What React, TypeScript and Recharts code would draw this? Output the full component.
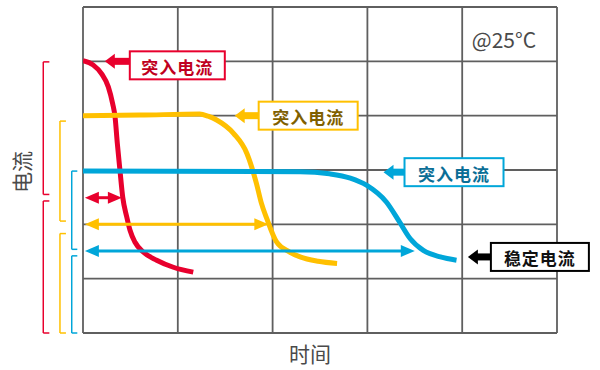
import React from 'react';
import { LineChart, Line, XAxis, YAxis, CartesianGrid, ReferenceLine, ReferenceDot, Customized } from 'recharts';

const xTicks = [0, 1, 2, 3, 4, 5];
const yTicks = [0, 1, 2, 3, 4, 5, 6];

const redCurve = [
  { t: 0, v: 5.01 }, { t: 0.109, v: 4.93 }, { t: 0.197, v: 4.77 }, { t: 0.267, v: 4.53 },
  { t: 0.313, v: 4.22 }, { t: 0.338, v: 3.98 }, { t: 0.362, v: 3.49 }, { t: 0.39, v: 2.99 },
  { t: 0.419, v: 2.5 }, { t: 0.461, v: 2.14 }, { t: 0.496, v: 1.89 }, { t: 0.549, v: 1.67 },
  { t: 0.636, v: 1.49 }, { t: 0.777, v: 1.34 }, { t: 0.953, v: 1.21 }, { t: 1.163, v: 1.12 },
];
const yellowCurve = [
  { t: 0, v: 4.0 }, { t: 0.6, v: 4.01 }, { t: 1.23, v: 4.03 }, { t: 1.32, v: 3.99 },
  { t: 1.41, v: 3.92 }, { t: 1.59, v: 3.67 }, { t: 1.73, v: 3.3 }, { t: 1.83, v: 2.75 },
  { t: 1.88, v: 2.4 }, { t: 1.94, v: 2.1 }, { t: 2.04, v: 1.68 }, { t: 2.18, v: 1.49 },
  { t: 2.29, v: 1.4 }, { t: 2.48, v: 1.32 }, { t: 2.68, v: 1.28 },
];
const blueCurve = [
  { t: 0, v: 2.98 }, { t: 2.29, v: 2.97 }, { t: 2.6, v: 2.93 }, { t: 2.82, v: 2.85 },
  { t: 2.99, v: 2.72 }, { t: 3.2, v: 2.41 }, { t: 3.34, v: 2.04 }, { t: 3.45, v: 1.74 },
  { t: 3.59, v: 1.52 }, { t: 3.77, v: 1.4 }, { t: 3.94, v: 1.34 },
];

const RED = '#E8002D';
const YELLOW = '#FFC000';
const BLUE = '#00A6D9';

const spanArrows = [
  { color: RED, y: 2.49, x1: 0.02, x2: 0.41 },
  { color: YELLOW, y: 2.0, x1: 0.02, x2: 1.955 },
  { color: BLUE, y: 1.51, x1: 0.02, x2: 3.5 },
];

const brackets = [
  { color: RED, x: -0.419, xEnd: -0.355, top: 4.99, bottom: 2.55 },
  { color: RED, x: -0.419, xEnd: -0.355, top: 2.43, bottom: 0 },
  { color: YELLOW, x: -0.243, xEnd: -0.18, top: 3.9, bottom: 2.06 },
  { color: YELLOW, x: -0.243, xEnd: -0.18, top: 1.83, bottom: 0 },
  { color: BLUE, x: -0.119, xEnd: -0.06, top: 2.98, bottom: 1.54 },
  { color: BLUE, x: -0.119, xEnd: -0.06, top: 1.42, bottom: 0 },
];

const callouts = [
  { text: '突入电流', x: 0.23, y: 5.0, color: RED, textColor: '#C00020', dy: 4, gap: 25, w: 95 },
  { text: '突入电流', x: 1.6, y: 4.0, color: YELLOW, textColor: '#7F6000', dy: 0, gap: 24, w: 99 },
  { text: '突入电流', x: 3.17, y: 2.96, color: BLUE, textColor: '#0B6E96', dy: 0, gap: 21, w: 99 },
  { text: '稳定电流', x: 4.06, y: 1.4, color: '#000000', textColor: '#111111', dy: 0, gap: 23, w: 98 },
];

const FONT = '"Noto Sans CJK SC", "Noto Sans", sans-serif';

const DoubleArrow = (props: any) => {
  const { x1, y1, x2, color } = props;
  const head = 14;
  const half = 6;
  return (
    <g>
      <line x1={x1 + head - 2} y1={y1} x2={x2 - head + 2} y2={y1} stroke={color} strokeWidth={3} />
      <polygon points={`${x1},${y1} ${x1 + head},${y1 - half} ${x1 + head},${y1 + half}`} fill={color} />
      <polygon points={`${x2},${y1} ${x2 - head},${y1 - half} ${x2 - head},${y1 + half}`} fill={color} />
    </g>
  );
};

const makeCallout = (c: any) => (props: any) => {
  const { cx, cy } = props;
  const h = 28;
  const boxX = cx + c.gap;
  const boxCy = cy + c.dy;
  const headLen = 10;
  return (
    <g>
      <rect x={cx + headLen - 1} y={cy - 3.5} width={c.gap - headLen + 2} height={7} fill={c.color} />
      <polygon points={`${cx},${cy} ${cx + headLen},${cy - 7.5} ${cx + headLen},${cy + 7.5}`} fill={c.color} />
      <rect x={boxX} y={boxCy - h / 2} width={c.w} height={h} fill="#ffffff" stroke={c.color} strokeWidth={2} />
      <text x={boxX + c.w / 2} y={boxCy + 1} textAnchor="middle" dominantBaseline="central"
        fontFamily={FONT} fontWeight={700} fontSize={17} fill={c.textColor} letterSpacing={1}>
        {c.text}
      </text>
    </g>
  );
};

const Texts = () => (
  <g>
    <text x={504} y={48} textAnchor="middle" fontFamily={FONT} fontSize={21} fill="#4a4a4a">@25°C</text>
    <text x={310} y={353} textAnchor="middle" dominantBaseline="central" fontFamily={FONT} fontSize={21} fill="#4a4a4a">时间</text>
    <text x={21} y={172} textAnchor="middle" dominantBaseline="central" fontFamily={FONT} fontSize={21} fill="#4a4a4a"
      transform="rotate(-90 21 172)">电流</text>
  </g>
);

export default function App() {
  return (
    <div style={{ position: 'absolute', left: 0, top: 0, width: 600, height: 370, background: '#ffffff' }}>
      <LineChart width={600} height={370} margin={{ top: 7, right: 43, bottom: 37, left: 83 }}>
        <XAxis type="number" dataKey="t" domain={[0, 5]} ticks={xTicks} allowDataOverflow hide />
        <YAxis type="number" dataKey="v" domain={[0, 6]} ticks={yTicks} allowDataOverflow hide />
        <CartesianGrid stroke="#5f5f5f" strokeWidth={1.8} horizontal vertical />
        {brackets.map((b, i) => (
          <ReferenceLine key={`bt${i}`} segment={[{ x: b.xEnd, y: b.top }, { x: b.x, y: b.top }]} stroke={b.color} strokeWidth={1.5} ifOverflow="visible" />
        ))}
        {brackets.map((b, i) => (
          <ReferenceLine key={`bv${i}`} segment={[{ x: b.x, y: b.top }, { x: b.x, y: b.bottom }]} stroke={b.color} strokeWidth={1.5} ifOverflow="visible" />
        ))}
        {brackets.map((b, i) => (
          <ReferenceLine key={`bb${i}`} segment={[{ x: b.x, y: b.bottom }, { x: b.xEnd, y: b.bottom }]} stroke={b.color} strokeWidth={1.5} ifOverflow="visible" />
        ))}
        <Line data={redCurve} dataKey="v" type="monotone" stroke={RED} strokeWidth={5} dot={false} isAnimationActive={false} />
        <Line data={yellowCurve} dataKey="v" type="monotone" stroke={YELLOW} strokeWidth={5} dot={false} isAnimationActive={false} />
        <Line data={blueCurve} dataKey="v" type="monotone" stroke={BLUE} strokeWidth={5} dot={false} isAnimationActive={false} />
        {spanArrows.map((a, i) => (
          <ReferenceLine key={`sa${i}`} segment={[{ x: a.x1, y: a.y }, { x: a.x2, y: a.y }]} ifOverflow="visible"
            shape={(p: any) => <DoubleArrow {...p} color={a.color} />} />
        ))}
        {callouts.map((c, i) => (
          <ReferenceDot key={`co${i}`} x={c.x} y={c.y} r={1} ifOverflow="visible" shape={makeCallout(c)} />
        ))}
        <Customized component={<Texts />} />
      </LineChart>
    </div>
  );
}
